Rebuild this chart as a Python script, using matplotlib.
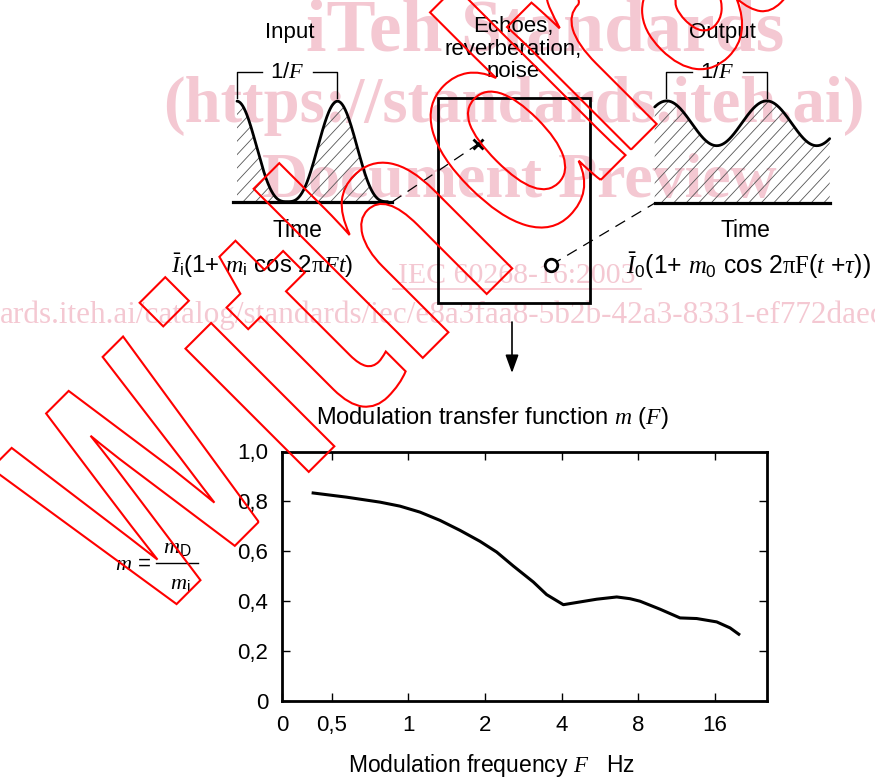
import numpy as np
import matplotlib
matplotlib.use("Agg")
import matplotlib.pyplot as plt
from matplotlib.patches import Rectangle, Polygon, PathPatch
from matplotlib.lines import Line2D
from matplotlib.textpath import TextPath
from matplotlib.font_manager import FontProperties
from matplotlib.transforms import Affine2D

# ---------------- data ----------------
freq = [0.417, 0.572, 0.774, 0.927, 1.111, 1.331, 1.595, 1.911, 2.222, 2.583, 3.095, 3.49, 4.06,
        4.72, 5.49, 6.58, 7.42, 8.12, 9.73, 11.66, 13.56, 16.25, 18.33, 20.06]
mtf = [0.8345, 0.817, 0.797, 0.781, 0.757, 0.724, 0.684, 0.64, 0.597, 0.541, 0.477, 0.4265, 0.386,
       0.397, 0.408, 0.417, 0.41, 0.40, 0.368, 0.333, 0.3305, 0.317, 0.293, 0.264]
xtick_vals = [0.319, 0.5, 1, 2, 4, 8, 16]
xtick_labels = ["0", "0,5", "1", "2", "4", "8", "16"]
ytick_vals = [0, 0.2, 0.4, 0.6, 0.8, 1.0]
ytick_labels = ["0", "0,2", "0,4", "0,6", "0,8", "1,0"]
x_limits = (0.319, 25.6)

input_m = 1.0
output_m = 0.28
input_cycles = (0.0, 1.5)
output_cycles = (-0.12, 1.63)

# ---------------- style ----------------
plt.rcParams['font.family'] = ['Liberation Sans', 'DejaVu Sans']
plt.rcParams['mathtext.fontset'] = 'custom'
plt.rcParams['mathtext.rm'] = 'Liberation Sans'
plt.rcParams['mathtext.it'] = 'Liberation Serif:italic'
plt.rcParams['mathtext.sf'] = 'Liberation Serif'
plt.rcParams['mathtext.bf'] = 'Liberation Sans:bold'

W, H = 875, 778
fig = plt.figure(figsize=(W / 100, H / 100), dpi=100)

# background schematic axes in pixel coordinates
ax0 = fig.add_axes([0, 0, 1, 1])
ax0.set_xlim(0, W)
ax0.set_ylim(H, 0)
ax0.axis('off')

# ---- watermark (pink) ----
pink = '#f4c8d2'
serif_b = dict(family='Liberation Serif', weight='bold', color=pink, zorder=0)
ax0.text(545, 50, "iTeh Standards", fontsize=53, ha='center', va='baseline', **serif_b)
ax0.text(514, 122, "(https://standards.iteh.ai)", fontsize=46.5, ha='center', va='baseline', **serif_b)
ax0.text(519, 197, "Document Preview", fontsize=46, ha='center', va='baseline', **serif_b)
ax0.text(517, 283, "IEC 60268-16:2003", fontsize=21.5, ha='center', va='baseline',
         family='Liberation Serif', color=pink, zorder=0)
ax0.plot([393, 641], [289, 289], color=pink, lw=1.2, zorder=0)
ax0.text(0, 323, "ards.iteh.ai/catalog/standards/iec/e8a3faa8-5b2b-42a3-8331-ef772daec", fontsize=22.5,
         ha='left', va='baseline', family='Liberation Serif', color=pink, zorder=0)

# hatch helper
def hatch_fill(xs, ys, base_y):
    verts = np.column_stack([np.r_[xs[0], xs, xs[-1]], np.r_[base_y, ys, base_y]])
    poly = Polygon(verts, closed=True, facecolor='none', edgecolor='none')
    ax0.add_patch(poly)
    ang = np.deg2rad(47)
    dx = 150 / np.tan(ang)
    for c in np.arange(xs[0] - 200, xs[-1] + 20, 12.5):
        ln = Line2D([c, c + dx], [base_y + 20, base_y - 130], color='#555555', lw=0.6, zorder=1)
        ax0.add_line(ln)
        ln.set_clip_path(poly)

# ---- input waveform ----
t_in = np.linspace(input_cycles[0], input_cycles[1], 400)
v_in = ((1 + input_m * np.cos(2 * np.pi * t_in)) / 2) ** 1.5
x_in = 237 + t_in * 100.5
y_in = 201.7 - 100.5 * v_in
hatch_fill(x_in, y_in, 201.7)
ax0.plot(x_in, y_in, color='black', lw=2.0, zorder=3, solid_capstyle='round')
ax0.plot([233, 392], [201.7, 201.7], color='black', lw=2.3, zorder=3)

# ---- output waveform ----
t_out = np.linspace(output_cycles[0], output_cycles[1], 400)
v_out = 1 + output_m * np.cos(2 * np.pi * t_out)
x_out = 666.7 + t_out * 100.0
y_out = 203.3 - 80.0 * v_out
hatch_fill(x_out, y_out, 203.3)
ax0.plot(x_out, y_out, color='black', lw=2.0, zorder=3, solid_capstyle='round')
ax0.plot([655, 830], [203.3, 203.3], color='black', lw=2.3, zorder=3)

# brackets
for (xl, xr, cx) in [(237, 337, 287), (666, 767, 717)]:
    ax0.plot([xl, xl, cx - 25], [98, 72, 72], color='black', lw=1.0, zorder=3)
    ax0.plot([cx + 26, xr, xr], [72, 72, 98], color='black', lw=1.0, zorder=3)
    ax0.text(cx, 72, r"1/$F$", fontsize=16, ha='center', va='center', zorder=3)

ax0.text(290, 32, "Input", fontsize=16, ha='center', va='center')
ax0.text(722, 32, "Output", fontsize=16, ha='center', va='center')
ax0.text(513, 49, "Echoes,\nreverberation,\nnoise", fontsize=16, ha='center', va='center',
         linespacing=1.1)
ax0.text(297, 230, "Time", fontsize=16.5, ha='center', va='center')
ax0.text(745, 230, "Time", fontsize=16.5, ha='center', va='center')
ax0.text(171, 266, r"$\bar{I}_{\mathrm{i}}$(1+ $m_{\mathrm{i}}$ cos 2$\mathsf{\pi}Ft$)", fontsize=17.3,
         ha='left', va='center')
ax0.text(626, 266, r"$\bar{I}_{0}$(1+ $m_{0}$ cos 2$\mathsf{\pi F}$($t$ +$\tau$))", fontsize=17.8,
         ha='left', va='center')

# middle box
ax0.add_patch(Rectangle((438, 98), 152, 205, fill=False, lw=2.0, edgecolor='black', zorder=3))
ax0.plot([478], [144], marker='x', ms=7, mew=2, color='black', zorder=4)
ax0.plot([551], [265], marker='o', ms=9, mew=2, mfc='white', mec='black', zorder=4)
ax0.plot([392, 478], [202, 144], color='black', lw=0.9, dashes=(9, 6), zorder=3)
ax0.plot([551, 655], [265, 203], color='black', lw=0.9, dashes=(9, 6), zorder=3)

# arrow
ax0.annotate('', xy=(512, 373), xytext=(512, 322),
             arrowprops=dict(arrowstyle='-|>,head_length=0.55,head_width=0.2', lw=1.2,
                             color='black', mutation_scale=20, shrinkA=0, shrinkB=0))

# titles
ax0.text(492, 418, r"Modulation transfer function $m$ ($F$)", fontsize=17, ha='center', va='center')
ax0.text(491, 772, r"Modulation frequency $F$   Hz", fontsize=16.5, ha='center', va='baseline')

# m = mD / mi
ax0.text(151, 565, r"$m$ =", fontsize=16, ha='right', va='center')
ax0.plot([156, 198], [563, 563], color='black', lw=1.0)
ax0.text(177, 548, r"$m_{\mathrm{D}}$", fontsize=16, ha='center', va='center')
ax0.text(180, 583, r"$m_{\mathrm{i}}$", fontsize=16, ha='center', va='center')

# ---------------- MTF axes ----------------
ax = fig.add_axes([282 / W, 1 - 701 / H, (767 - 282) / W, (701 - 451.5) / H])
ax.set_facecolor('none')
ax.set_xscale('log', base=2)
ax.plot(freq, mtf, color='black', lw=2.2, solid_joinstyle='round', solid_capstyle='butt')
ax.set_xlim(*x_limits)
ax.set_ylim(0, 1.0)
ax.set_xticks(xtick_vals)
ax.set_xticklabels(xtick_labels)
ax.minorticks_off()
ax.set_yticks(ytick_vals)
ax.set_yticklabels(ytick_labels)
ax.tick_params(axis='both', direction='in', length=6, width=1, labelsize=16, pad=10,
               top=True, right=True)
for s in ax.spines.values():
    s.set_linewidth(2)

# ---- red outline watermark "Withdrawn" (rotated 45 degrees) ----
axr = fig.add_axes([0, 0, 1, 1], zorder=10)
axr.set_xlim(0, W)
axr.set_ylim(H, 0)
axr.axis('off')
axr.set_facecolor('none')
wm_font = FontProperties(family='Liberation Sans', weight='bold')
wm_size = 330
baseline_v = -552.0
# (text piece, start along baseline, horizontal squeeze)
wm_pieces = [("W", -337.6, 0.6), ("ithd", -133.8, 0.8), ("rawn", 322.0, 0.8)]
for txt, u_start, sq in wm_pieces:
    tp = TextPath((0, 0), txt, size=wm_size, prop=wm_font)
    tr = (Affine2D().scale(sq, 1).rotate_deg(45).scale(1, -1)
          .translate((u_start - baseline_v) / np.sqrt(2), -(u_start + baseline_v) / np.sqrt(2)))
    axr.add_patch(PathPatch(tr.transform_path(tp), facecolor='none', edgecolor='red', lw=1.5))

fig.savefig('out.png', dpi=100)
